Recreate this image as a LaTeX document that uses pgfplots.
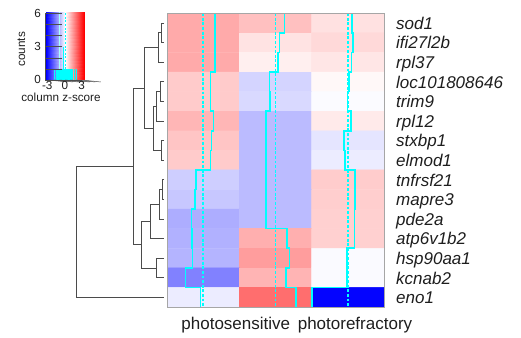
\documentclass[border=0pt]{standalone}
\usepackage{fontspec}
\setmainfont{Liberation Sans}
\usepackage{pgfplots}
\pgfplotsset{compat=1.18}
\pgfplotsset{colormap={bwr}{rgb255=(0,0,255) rgb255=(255,255,255) rgb255=(255,0,0)}}
\definecolor{dendro}{RGB}{75,75,75}
\definecolor{txt}{RGB}{30,30,30}
\definecolor{trc}{RGB}{0,255,255}
\pgfplotstableread{
x y z
0.5 0.5 1.00
1.5 0.5 0.74
2.5 0.5 0.36
0.5 1.5 1.00
1.5 1.5 0.33
2.5 1.5 0.45
0.5 2.5 1.00
1.5 2.5 0.19
2.5 2.5 0.30
0.5 3.5 0.61
1.5 3.5 -0.50
2.5 3.5 0.08
0.5 4.5 0.61
1.5 4.5 -0.44
2.5 4.5 -0.04
0.5 5.5 0.86
1.5 5.5 -0.80
2.5 5.5 0.25
0.5 6.5 0.69
1.5 6.5 -0.80
2.5 6.5 -0.30
0.5 7.5 0.61
1.5 7.5 -0.80
2.5 7.5 -0.22
0.5 8.5 -0.58
1.5 8.5 -0.80
2.5 8.5 0.60
0.5 9.5 -0.66
1.5 9.5 -0.80
2.5 9.5 0.58
0.5 10.5 -0.96
1.5 10.5 -0.80
2.5 10.5 0.55
0.5 11.5 -0.92
1.5 11.5 0.94
2.5 11.5 0.55
0.5 12.5 -0.88
1.5 12.5 1.16
2.5 12.5 -0.06
0.5 13.5 -1.48
1.5 13.5 0.88
2.5 13.5 -0.06
0.5 14.5 -0.22
1.5 14.5 1.71
2.5 14.5 -2.95
}\heat
\begin{document}
\begin{tikzpicture}[x=1pt,y=1pt]
\useasboundingbox (0,0) rectangle (521,337);

% ---------- heatmap ----------
\begin{axis}[at={(167pt,30pt)}, anchor=south west, scale only axis,
  width=217pt, height=293.7pt, xmin=0, xmax=3, ymin=0, ymax=15, y dir=reverse,
  ticks=none, axis line style={draw=black!35, line width=0.9pt},
  colormap name=bwr, point meta min=-3, point meta max=3]
\addplot[matrix plot*, mesh/cols=3, point meta=explicit] table[x=x, y=y, meta=z] {\heat};
% trace lines (column trace)
\addplot[draw=trc, line width=1.6pt, line join=miter] coordinates {
(0.6667,0) (0.6667,3)
(0.6017,3) (0.6017,5) (0.6433,5) (0.6433,6)
(0.6150,6) (0.6150,7) (0.6017,7) (0.6017,8) (0.4033,8) (0.4033,9)
(0.3900,9) (0.3900,10) (0.3400,10) (0.3400,11) (0.3467,11) (0.3467,12)
(0.3533,12) (0.3533,13) (0.2533,13) (0.2533,14) (0.4633,14) (0.4633,15)};
\addplot[draw=trc, line width=1.6pt, line join=miter] coordinates {
(1.6233,0) (1.6233,1) (1.5550,1) (1.5550,2) (1.5317,2) (1.5317,3)
(1.4167,3) (1.4167,4) (1.4267,4) (1.4267,5) (1.3667,5) (1.3667,11)
(1.6567,11) (1.6567,12)
(1.6933,12) (1.6933,13) (1.6467,13) (1.6467,14) (1.7850,14) (1.7850,15)};
\addplot[draw=trc, line width=1.6pt, line join=miter] coordinates {
(2.5600,0) (2.5600,1) (2.5750,1) (2.5750,2) (2.5500,2) (2.5500,3)
(2.5133,3) (2.5133,4) (2.4933,4) (2.4933,5) (2.5417,5) (2.5417,6)
(2.4500,6) (2.4500,7) (2.4633,7) (2.4633,8) (2.6000,8) (2.6000,9)
(2.5967,9) (2.5967,10) (2.5917,10) (2.5917,12)
(2.4900,12) (2.4900,14) (2.0083,14) (2.0083,15)};
\addplot[draw=trc, line width=1.4pt, dash pattern=on 2.8pt off 1.8pt] coordinates {(0.5,0) (0.5,15)};
\addplot[draw=trc, line width=1.4pt, dash pattern=on 2.8pt off 1.8pt] coordinates {(1.5,0) (1.5,15)};
\addplot[draw=trc, line width=1.4pt, dash pattern=on 2.8pt off 1.8pt] coordinates {(2.5,0) (2.5,15)};
\end{axis}

% ---------- colour key ----------
\begin{axis}[at={(46pt,257pt)}, anchor=south west, scale only axis,
  width=38.3pt, height=67.7pt, xmin=-3.45, xmax=3.45, ymin=0, ymax=6.1,
  hide axis, clip=false, colormap name=bwr, point meta min=-3.45, point meta max=3.45]
\addplot[surf, shader=interp, mesh/cols=3, point meta=x] coordinates {
(-3.45,0) (0,0) (3.45,0)
(-3.45,6.1) (0,6.1) (3.45,6.1)};
% histogram
\addplot[fill=trc, draw=trc, line width=0.5pt] coordinates {(-1.38,0) (-1.38,1) (1.2,1) (1.2,0)} -- cycle;
\addplot[draw=trc, line width=1.2pt] coordinates {(-1.98,0) (-1.98,1)};
\addplot[draw=trc, line width=1.2pt] coordinates {(-1.62,0) (-1.62,1)};
\addplot[draw=trc, line width=1.2pt] coordinates {(1.62,0) (1.62,1)};
\addplot[draw=trc, line width=1.2pt] coordinates {(2.10,0) (2.10,1)};
\addplot[draw=trc, line width=1.3pt] coordinates {(-0.30,0) (-0.30,3)};
\addplot[draw=trc!35, line width=1.1pt] coordinates {(-0.95,1) (-0.95,6.1)};
\addplot[draw=trc, line width=1.3pt, dash pattern=on 2pt off 1.6pt] coordinates {(0,0) (0,6.1)};
% axes of the key
\draw[black!70, line width=0.5pt] (axis cs:-3.6,0) -- (axis cs:-3.6,6);
\pgfplotsinvokeforeach{0,1,2,3,4,5,6}{\draw[black!70, line width=0.5pt] (axis cs:-3.6,#1) -- ++(-2.5pt,0);}
\draw[black!70, line width=0.5pt] (axis cs:-3,0) -- (axis cs:3,0);
\pgfplotsinvokeforeach{-3,-2,-1,0,1,2,3}{\draw[black!70, line width=0.5pt] (axis cs:#1,0) -- ++(0,-2pt);}
\end{axis}

% ---------- dendrogram and texts (pixel frame) ----------
\begin{axis}[at={(0pt,0pt)}, anchor=south west, scale only axis,
  width=521pt, height=337pt, xmin=0, xmax=521, ymin=0, ymax=337, y dir=reverse,
  hide axis, clip=false]
\tikzset{dg/.style={draw=dendro, line width=1pt}}
\addplot[dg] coordinates {(164,23.1) (161,23.1) (161,42.7) (164,42.7)};
\addplot[dg] coordinates {(161,32.9) (158.3,32.9) (158.3,62.3) (164,62.3)};
\addplot[dg] coordinates {(164,81.9) (160,81.9) (160,101.5) (164,101.5)};
\addplot[dg] coordinates {(160,91.7) (156,91.7) (156,121.1) (164,121.1)};
\addplot[dg] coordinates {(164,140.7) (161,140.7) (161,160.3) (164,160.3)};
\addplot[dg] coordinates {(156,106.4) (153.3,106.4) (153.3,150.5) (161,150.5)};
\addplot[dg] coordinates {(158.3,47.6) (144.3,47.6) (144.3,128.45) (153.3,128.45)};
\addplot[dg] coordinates {(164,179.9) (162,179.9) (162,199.5) (164,199.5)};
\addplot[dg] coordinates {(162,189.7) (159.3,189.7) (159.3,219.1) (164,219.1)};
\addplot[dg] coordinates {(159.3,204.4) (150,204.4) (150,238.7) (164,238.7)};
\addplot[dg] coordinates {(164,258.3) (156.7,258.3) (156.7,277.9) (164,277.9)};
\addplot[dg] coordinates {(150,221.55) (141.7,221.55) (141.7,268.1) (156.7,268.1)};
\addplot[dg] coordinates {(144.3,88) (133.3,88) (133.3,244.8) (141.7,244.8)};
\addplot[dg] coordinates {(133.3,166.4) (76.7,166.4) (76.7,297.5) (164,297.5)};
% heatmap frame on top
\draw[black!35, line width=0.9pt] (axis cs:167,13.3) rectangle (axis cs:384,307);
% row labels
\tikzset{rl/.style={anchor=base west, inner sep=0pt, text=txt, font={\fontsize{17}{17}\selectfont\itshape}}}
\node[rl] at (axis cs:396,29.3) {sod1};
\node[rl] at (axis cs:396,48.9) {ifi27l2b};
\node[rl] at (axis cs:396,68.5) {rpl37};
\node[rl] at (axis cs:396,88.1) {loc101808646};
\node[rl] at (axis cs:396,107.7) {trim9};
\node[rl] at (axis cs:396,127.3) {rpl12};
\node[rl] at (axis cs:396,146.9) {stxbp1};
\node[rl] at (axis cs:396,166.5) {elmod1};
\node[rl] at (axis cs:396,186.1) {tnfrsf21};
\node[rl] at (axis cs:396,205.7) {mapre3};
\node[rl] at (axis cs:396,225.3) {pde2a};
\node[rl] at (axis cs:396,244.9) {atp6v1b2};
\node[rl] at (axis cs:396,264.5) {hsp90aa1};
\node[rl] at (axis cs:396,284.1) {kcnab2};
\node[rl] at (axis cs:396,303.7) {eno1};
% column labels
\tikzset{cl/.style={anchor=base, inner sep=0pt, text=txt, font={\fontsize{17}{17}\selectfont}}}
\node[cl] at (axis cs:235.8,329.5) {photosensitive};
\node[cl] at (axis cs:355,329.5) {photorefractory};
% key labels
\tikzset{kl/.style={inner sep=0pt, text=txt, font={\fontsize{11.7}{11.7}\selectfont}}}
\node[kl, anchor=base east] at (axis cs:41.2,17.5) {6};
\node[kl, anchor=base east] at (axis cs:41.2,50.9) {3};
\node[kl, anchor=base east] at (axis cs:41.2,83.5) {0};
\node[kl, anchor=base] at (axis cs:47.3,89.3) {-3};
\node[kl, anchor=base] at (axis cs:65,89.3) {0};
\node[kl, anchor=base] at (axis cs:81.7,89.3) {3};
\node[kl, anchor=base] at (axis cs:61,101.6) {column z-score};
\node[kl, anchor=base, rotate=90] at (axis cs:25,49.2) {counts};
\end{axis}
\end{tikzpicture}
\end{document}
